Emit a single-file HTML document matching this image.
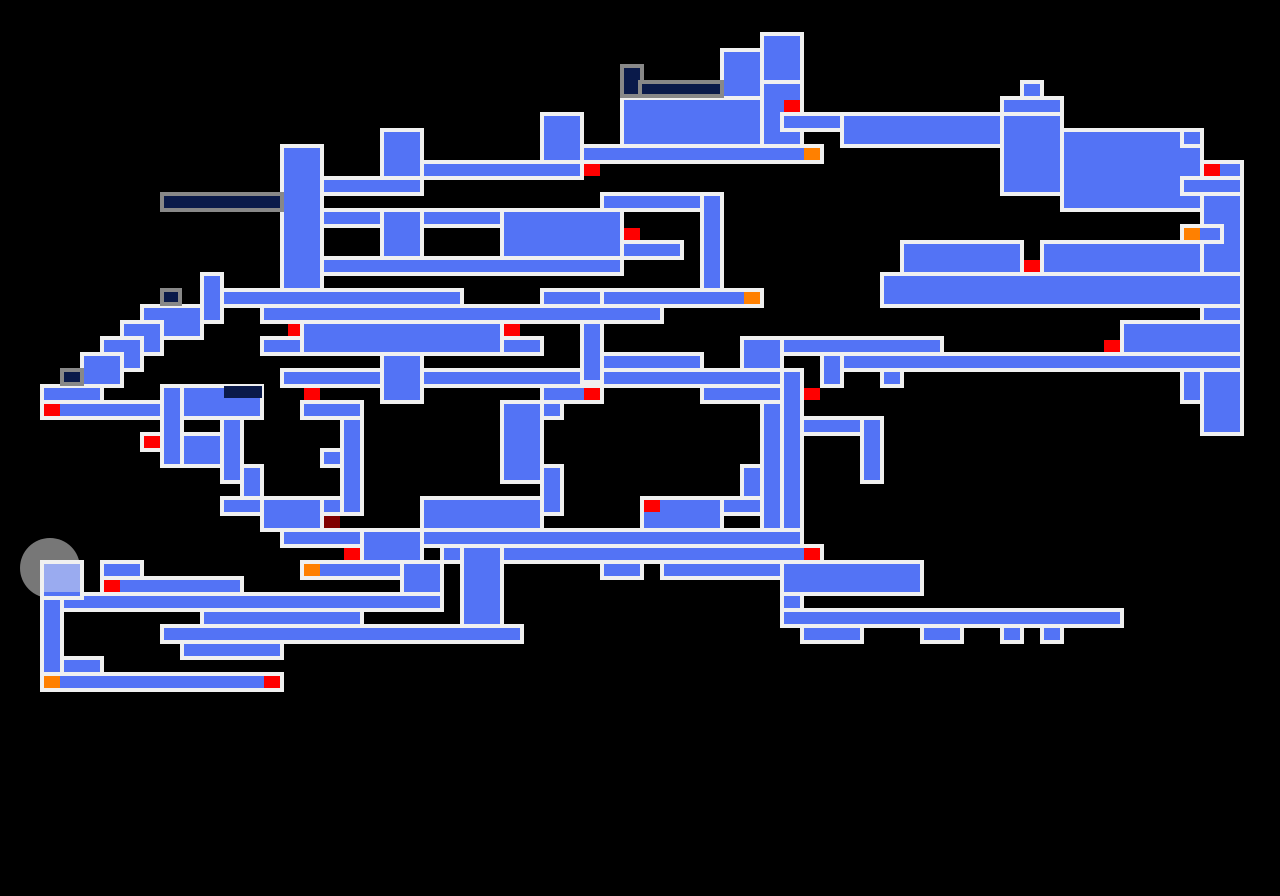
<!DOCTYPE html>
<html><head><style>html,body{margin:0;background:#000;width:1280px;height:896px;overflow:hidden}</style></head>
<body>
<svg width="1280" height="896" xmlns="http://www.w3.org/2000/svg">
<rect width="1280" height="896" fill="#000"/>
<circle cx="50" cy="568" r="30" fill="#777"/>
<g fill="#5373f5" stroke="#f0f0f0" stroke-width="4">
<rect x="762" y="34" width="40" height="48"/>
<rect x="722" y="50" width="40" height="48"/>
<rect x="622" y="98" width="140" height="48"/>
<rect x="762" y="82" width="40" height="80"/>
<rect x="582" y="146" width="240" height="16"/>
<rect x="782" y="114" width="220" height="16"/>
<rect x="842" y="114" width="160" height="32"/>
<rect x="1022" y="82" width="20" height="16"/>
<rect x="1002" y="98" width="60" height="16"/>
<rect x="1002" y="114" width="60" height="80"/>
<rect x="1062" y="130" width="140" height="80"/>
<rect x="1182" y="130" width="20" height="16"/>
<rect x="1202" y="162" width="40" height="272"/>
<rect x="1182" y="178" width="60" height="16"/>
<rect x="1182" y="226" width="40" height="16"/>
<rect x="902" y="242" width="120" height="32"/>
<rect x="1042" y="242" width="160" height="48"/>
<rect x="882" y="274" width="360" height="32"/>
<rect x="1122" y="322" width="120" height="32"/>
<rect x="842" y="354" width="400" height="16"/>
<rect x="1182" y="370" width="20" height="32"/>
<rect x="742" y="338" width="200" height="16"/>
<rect x="742" y="338" width="40" height="48"/>
<rect x="822" y="354" width="20" height="32"/>
<rect x="882" y="370" width="20" height="16"/>
<rect x="762" y="386" width="20" height="160"/>
<rect x="782" y="370" width="20" height="176"/>
<rect x="802" y="418" width="80" height="16"/>
<rect x="862" y="418" width="20" height="64"/>
<rect x="702" y="386" width="80" height="16"/>
<rect x="742" y="466" width="20" height="44"/>
<rect x="722" y="498" width="40" height="16"/>
<rect x="642" y="498" width="80" height="48"/>
<rect x="442" y="546" width="380" height="16"/>
<rect x="602" y="562" width="40" height="16"/>
<rect x="662" y="562" width="120" height="16"/>
<rect x="782" y="562" width="140" height="32"/>
<rect x="782" y="594" width="20" height="32"/>
<rect x="782" y="610" width="340" height="16"/>
<rect x="802" y="626" width="60" height="16"/>
<rect x="922" y="626" width="40" height="16"/>
<rect x="1002" y="626" width="20" height="16"/>
<rect x="1042" y="626" width="20" height="16"/>
<rect x="542" y="114" width="40" height="64"/>
<rect x="422" y="162" width="160" height="16"/>
<rect x="382" y="130" width="40" height="64"/>
<rect x="322" y="178" width="100" height="16"/>
<rect x="282" y="146" width="40" height="160"/>
<rect x="322" y="210" width="300" height="16"/>
<rect x="382" y="210" width="40" height="48"/>
<rect x="502" y="210" width="120" height="64"/>
<rect x="322" y="258" width="300" height="16"/>
<rect x="602" y="194" width="120" height="16"/>
<rect x="702" y="194" width="20" height="112"/>
<rect x="622" y="242" width="60" height="16"/>
<rect x="542" y="290" width="220" height="16"/>
<rect x="542" y="290" width="60" height="28"/>
<rect x="202" y="274" width="20" height="48"/>
<rect x="222" y="290" width="240" height="16"/>
<rect x="142" y="306" width="60" height="32"/>
<rect x="262" y="306" width="400" height="16"/>
<rect x="262" y="338" width="280" height="16"/>
<rect x="302" y="322" width="200" height="32"/>
<rect x="122" y="322" width="40" height="32"/>
<rect x="102" y="338" width="40" height="32"/>
<rect x="82" y="354" width="40" height="32"/>
<rect x="42" y="386" width="60" height="16"/>
<rect x="42" y="402" width="140" height="16"/>
<rect x="162" y="386" width="100" height="32"/>
<rect x="162" y="386" width="20" height="80"/>
<rect x="182" y="434" width="60" height="32"/>
<rect x="222" y="418" width="20" height="64"/>
<rect x="242" y="466" width="20" height="48"/>
<rect x="222" y="498" width="140" height="16"/>
<rect x="262" y="498" width="60" height="32"/>
<rect x="282" y="370" width="140" height="16"/>
<rect x="382" y="354" width="40" height="48"/>
<rect x="422" y="370" width="360" height="16"/>
<rect x="342" y="402" width="20" height="112"/>
<rect x="302" y="402" width="60" height="16"/>
<rect x="322" y="450" width="20" height="16"/>
<rect x="502" y="402" width="40" height="80"/>
<rect x="542" y="386" width="60" height="16"/>
<rect x="542" y="402" width="20" height="16"/>
<rect x="542" y="466" width="20" height="48"/>
<rect x="582" y="322" width="20" height="60"/>
<rect x="602" y="354" width="100" height="16"/>
<rect x="422" y="498" width="120" height="32"/>
<rect x="282" y="530" width="520" height="16"/>
<rect x="362" y="530" width="60" height="48"/>
<rect x="302" y="562" width="120" height="16"/>
<rect x="402" y="562" width="40" height="48"/>
<rect x="62" y="594" width="380" height="16"/>
<rect x="462" y="546" width="40" height="96"/>
<rect x="442" y="626" width="80" height="16"/>
<rect x="162" y="626" width="360" height="16"/>
<rect x="182" y="642" width="100" height="16"/>
<rect x="202" y="610" width="160" height="16"/>
<rect x="102" y="562" width="40" height="32"/>
<rect x="102" y="578" width="140" height="16"/>
<rect x="142" y="434" width="20" height="16"/>
<rect x="42" y="562" width="40" height="36"/>
<rect x="42" y="598" width="20" height="76"/>
<rect x="62" y="658" width="40" height="16"/>
<rect x="42" y="674" width="240" height="16"/>
</g>
<g fill="#0a1a4a" stroke="#888" stroke-width="4">
<rect x="622" y="66" width="20" height="30"/>
<rect x="640" y="82" width="82" height="14"/>
<rect x="162" y="194" width="120" height="16"/>
<rect x="162" y="290" width="18" height="14"/>
<rect x="62" y="370" width="20" height="14"/>
</g>
<rect x="224" y="386" width="38" height="12" fill="#0a1a4a"/>
<rect x="44" y="564" width="36" height="28" fill="#9aabf0"/>
<g fill="#f00">
<rect x="44" y="404" width="16" height="12"/><rect x="144" y="436" width="16" height="12"/>
<rect x="104" y="580" width="16" height="12"/><rect x="264" y="676" width="16" height="12"/>
<rect x="344" y="548" width="16" height="12"/><rect x="304" y="388" width="16" height="12"/>
<rect x="288" y="324" width="12" height="12"/><rect x="504" y="324" width="16" height="12"/>
<rect x="584" y="388" width="16" height="12"/><rect x="584" y="164" width="16" height="12"/>
<rect x="624" y="228" width="16" height="12"/><rect x="784" y="100" width="16" height="12"/>
<rect x="804" y="388" width="16" height="12"/><rect x="644" y="500" width="16" height="12"/>
<rect x="804" y="548" width="16" height="12"/><rect x="1024" y="260" width="16" height="12"/>
<rect x="1104" y="340" width="16" height="12"/><rect x="1204" y="164" width="16" height="12"/>
</g>
<g fill="#ff8000">
<rect x="44" y="676" width="16" height="12"/><rect x="304" y="564" width="16" height="12"/>
<rect x="744" y="292" width="16" height="12"/><rect x="804" y="148" width="16" height="12"/>
<rect x="1184" y="228" width="16" height="12"/>
</g>
<rect x="324" y="516" width="16" height="12" fill="#800000"/>
</svg>
</body></html>
